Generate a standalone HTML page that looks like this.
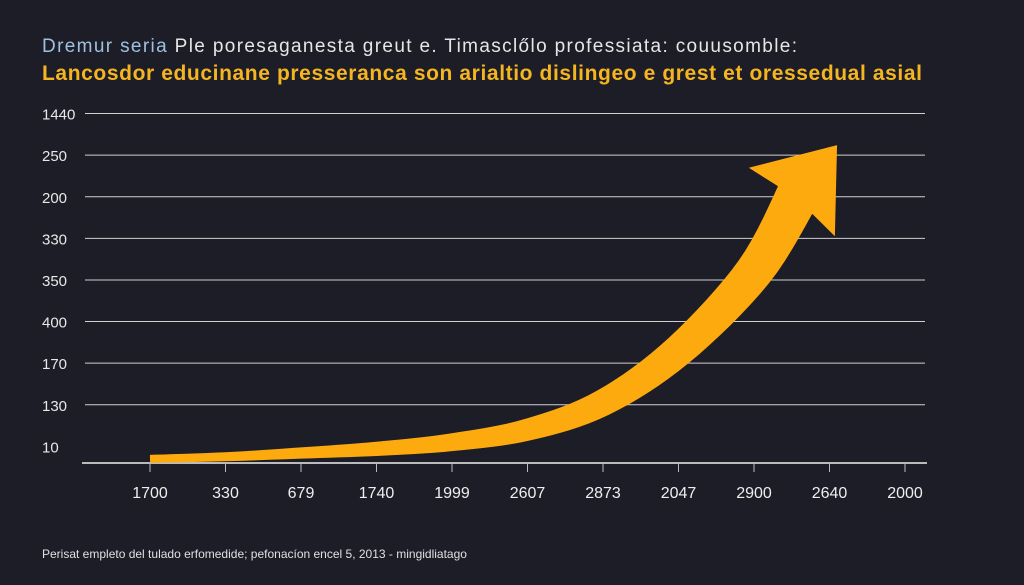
<!DOCTYPE html>
<html><head><meta charset="utf-8"><style>
body{margin:0;width:1024px;height:585px;background:#1c1d27;overflow:hidden;font-family:"Liberation Sans",sans-serif}
svg{position:absolute;left:0;top:0}
</style></head><body>
<svg width="1024" height="585">
<text x="42" y="52" font-size="19" fill="#e6e6e6" textLength="755"><tspan fill="#9fc0e0">Dremur seria</tspan> Ple poresaganesta greut e. Timasclőlo professiata: couusomble:</text>
<text x="42" y="80" font-size="21" fill="#f5b520" font-weight="bold" textLength="880">Lancosdor educinane presseranca  son arialtio dislingeo e grest et oressedual asial</text>
<g id="grid"></g><g id="axis"></g><g id="arrow"></g>
<text x="42" y="558" font-size="12" fill="#e0e0e0">Perisat empleto del tulado erfomedide; pefonacíon encel 5, 2013 - mingidliatago</text>
</svg>
<script>
const yLabels=["1440","250","200","330","350","400","170","130","10"];
const xLabels=["1700","330","679","1740","1999","2607","2873","2047","2900","2640","2000"];
const seriesPos=[0,1,2,3,4,5,6,7,8,8.6,9.1];
const seriesVal=[0.1,0.15,0.24,0.34,0.5,0.8,1.45,2.7,4.6,6.5,7.64];
const NS="http://www.w3.org/2000/svg";
function mk(t,a,p){const e=document.createElementNS(NS,t);for(const k in a)e.setAttribute(k,a[k]);p.appendChild(e);return e;}
const xs=i=>150+i*75.5, ys=v=>463-v*41.6;
const grid=document.getElementById('grid'),axis=document.getElementById('axis'),arrow=document.getElementById('arrow');
yLabels.forEach((l,k)=>{const v=8-k+0.4;const y=ys(v);
 if(k<8){const g=mk('line',{x1:85,x2:925,y1:y,y2:y,stroke:'#d0d0d0','stroke-width':1},grid);
 
 }
 const t=mk('text',{x:42,y:y+6,'font-size':15,fill:'#e8e8e8'},grid);t.textContent=l;
 
 });
const ax=mk('line',{x1:82,x2:927,y1:463,y2:463,stroke:'#bbb','stroke-width':2},axis);


xLabels.forEach((l,i)=>{const x=xs(i);
 mk('line',{x1:x,x2:x,y1:463,y2:472,stroke:'#bbb','stroke-width':1},axis);
 const t=mk('text',{x:x,y:498,'font-size':16,fill:'#eee','text-anchor':'middle'},axis);t.textContent=l;
 
 });
const n=seriesPos.length;const pts=seriesPos.map((p,i)=>[xs(p),ys(seriesVal[i])]);
const ctrl=pts.slice(0,n-1);
// Catmull-Rom smoothing
const body=[];
for(let i=0;i<ctrl.length-1;i++){const p0=ctrl[Math.max(0,i-1)],p1=ctrl[i],p2=ctrl[i+1],p3=ctrl[Math.min(ctrl.length-1,i+2)];
 for(let s=0;s<8;s++){const t=s/8,t2=t*t,t3=t2*t;
  body.push([0,1].map(k=>0.5*(2*p1[k]+(-p0[k]+p2[k])*t+(2*p0[k]-5*p1[k]+4*p2[k]-p3[k])*t2+(-p0[k]+3*p1[k]-3*p2[k]+p3[k])*t3)));}}
body.push(ctrl[ctrl.length-1]);
const up=[],dn=[];
body.forEach((p,i)=>{const a=body[Math.max(0,i-1)],b=body[Math.min(body.length-1,i+1)];
 let dx=b[0]-a[0],dy=b[1]-a[1];const L=Math.hypot(dx,dy);dx/=L;dy/=L;
 const w=4+18*Math.pow(i/(body.length-1),1.6);
 up.push([p[0]+dy*w,p[1]-dx*w]);dn.push([p[0]-dy*w,p[1]+dx*w]);});
const poly=up.concat(dn.reverse()).map(p=>p.join(',')).join(' ');
const bp=mk('polygon',{points:poly,fill:'#fdaa0f'},arrow);


const base=pts[n-2],tip=pts[n-1];let dx=tip[0]-base[0],dy=tip[1]-base[1];const L=Math.hypot(dx,dy);dx/=L;dy/=L;
const hw=55,back=12;
const h1=[base[0]+dy*hw-dx*back,base[1]-dx*hw-dy*back],h2=[base[0]-dy*hw-dx*back,base[1]+dx*hw-dy*back];
const hp=mk('polygon',{points:[tip,h1,[base[0]-dx*6,base[1]-dy*6],h2].map(p=>p.join(',')).join(' '),fill:'#fdaa0f'},arrow);


</script>
</body></html>
